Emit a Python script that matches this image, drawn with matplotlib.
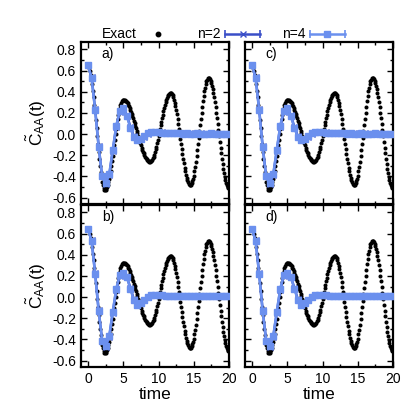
import numpy as np
import matplotlib
matplotlib.use('Agg')
import matplotlib.pyplot as plt
from matplotlib.lines import Line2D
from matplotlib.legend_handler import HandlerLine2D
from matplotlib.ticker import MultipleLocator

plt.rcParams['font.family'] = ['Liberation Sans', 'DejaVu Sans']
plt.rcParams['mathtext.fontset'] = 'custom'
plt.rcParams['mathtext.rm'] = 'Liberation Sans'
plt.rcParams['mathtext.it'] = 'Liberation Sans'

# exact correlation function, sampled every 0.1 in time
exact = [0.640, 0.635, 0.620, 0.595, 0.562, 0.519, 0.469, 0.411, 0.348, 0.279,
         0.206, 0.131, 0.055, -0.021, -0.096, -0.169, -0.238, -0.301, -0.359, -0.409,
         -0.452, -0.485, -0.510, -0.525, -0.530,
         -0.527, -0.518, -0.502, -0.481, -0.454, -0.423, -0.386, -0.345, -0.301, -0.254,
         -0.205, -0.154, -0.103, -0.051, 0.000, 0.049, 0.097, 0.140, 0.181, 0.218,
         0.250, 0.276, 0.297, 0.313, 0.322, 0.325,
         0.324, 0.321, 0.316, 0.309, 0.300, 0.290, 0.277, 0.263, 0.248, 0.231,
         0.212, 0.192, 0.172, 0.150, 0.127, 0.104, 0.081, 0.057, 0.033, 0.008,
         -0.016, -0.039, -0.062, -0.085, -0.107, -0.127, -0.147, -0.166, -0.183, -0.198,
         -0.212, -0.225, -0.235, -0.244, -0.251, -0.256, -0.259, -0.260,
         -0.258, -0.252, -0.243, -0.230, -0.213, -0.194, -0.171, -0.145, -0.117, -0.087,
         -0.055, -0.022, 0.012, 0.047, 0.083, 0.118, 0.152, 0.185, 0.217, 0.247,
         0.275, 0.301, 0.324, 0.343, 0.360, 0.373, 0.382, 0.388, 0.390,
         0.387, 0.379, 0.366, 0.347, 0.323, 0.295, 0.263, 0.226, 0.186, 0.144,
         0.099, 0.052, 0.004, -0.045, -0.094, -0.142, -0.189, -0.234, -0.276, -0.316,
         -0.353, -0.385, -0.413, -0.437, -0.456, -0.469, -0.477, -0.480,
         -0.476, -0.465, -0.447, -0.422, -0.391, -0.353, -0.310, -0.262, -0.210, -0.154,
         -0.096, -0.036, 0.025, 0.086, 0.146, 0.204, 0.260, 0.312, 0.359, 0.403,
         0.440, 0.472, 0.497, 0.515, 0.526, 0.530,
         0.527, 0.518, 0.503, 0.482, 0.456, 0.424, 0.388, 0.347, 0.302, 0.254,
         0.202, 0.149, 0.094, 0.038, -0.018, -0.074, -0.129, -0.182, -0.234, -0.282,
         -0.327, -0.368, -0.404, -0.436, -0.462, -0.483, -0.498, -0.507, -0.510]
t_exact = np.arange(len(exact)) * 0.1

# approximations, sampled every 0.5
n2_top = [0.65, 0.54, 0.24, -0.11, -0.40, -0.47, -0.39, -0.16, 0.07, 0.21,
          0.24, 0.18, 0.07, -0.02, -0.06, -0.05, -0.03, 0.00, 0.02, 0.02,
          0.02, 0.02, 0.01, 0.01, 0.01, 0.01, 0.01, 0.01, 0.00, 0.01,
          0.00, 0.00, 0.01, 0.00, 0.00, 0.00, 0.01, 0.00, 0.00, 0.00, 0.00]
n4_top = [0.65, 0.53, 0.23, -0.12, -0.40, -0.46, -0.38, -0.15, 0.08, 0.22,
          0.25, 0.17, 0.06, -0.03, -0.06, -0.05, -0.02, 0.01, 0.02, 0.02,
          0.02, 0.01, 0.01, 0.01, 0.01, 0.01, 0.01, 0.00, 0.01, 0.00,
          0.00, 0.01, 0.00, 0.00, 0.00, 0.01, 0.00, 0.00, 0.00, 0.00, 0.00]
n2_bot = [0.64, 0.54, 0.23, -0.12, -0.41, -0.47, -0.38, -0.15, 0.07, 0.20,
          0.22, 0.19, 0.09, -0.02, -0.07, -0.06, -0.03, 0.00, 0.02, 0.02,
          0.02, 0.02, 0.01, 0.01, 0.01, 0.01, 0.01, 0.01, 0.01, 0.01,
          0.01, 0.01, 0.01, 0.01, 0.01, 0.01, 0.01, 0.01, 0.01, 0.01, 0.01]
n4_bot = [0.64, 0.53, 0.22, -0.13, -0.41, -0.46, -0.37, -0.14, 0.08, 0.21,
          0.23, 0.19, 0.08, -0.03, -0.07, -0.06, -0.03, 0.00, 0.02, 0.02,
          0.02, 0.02, 0.01, 0.01, 0.01, 0.01, 0.01, 0.01, 0.01, 0.01,
          0.01, 0.01, 0.01, 0.01, 0.01, 0.01, 0.01, 0.01, 0.01, 0.01, 0.01]
t_approx = np.arange(len(n4_top)) * 0.5
err = 0.01

labels = ['a)', 'b)', 'c)', 'd)']

c_n2 = '#3a4fc8'
c_n4 = '#6b90ee'


class CapHandler(HandlerLine2D):
    # gnuplot-like key sample: |--x--|
    def create_artists(self, legend, orig_handle, xdescent, ydescent,
                       width, height, fontsize, trans):
        arts = super().create_artists(legend, orig_handle, xdescent, ydescent,
                                      width, height, fontsize, trans)
        y = (height - ydescent) / 2.
        caps = Line2D([-xdescent, -xdescent + width], [y, y], ls='none',
                      marker='|', ms=6, mew=1.2, color=orig_handle.get_color(),
                      transform=trans)
        return list(arts) + [caps]


fig = plt.figure(figsize=(4.02, 4.2), dpi=100)
W, H = 402, 420
lefts = [81, 245]
tops = [42, 205]
pw, ph = 148, 162

for col in range(2):
    for row in range(2):
        x0 = lefts[col]
        y0 = tops[row]
        ax = fig.add_axes([x0 / W, 1 - (y0 + ph) / H, pw / W, ph / H])
        lab = labels[col * 2 + row]

        n2 = n2_top if row == 0 else n2_bot
        n4 = n4_top if row == 0 else n4_bot

        ax.plot(t_exact, exact, 'o', color='black', ms=2.9, mew=0, zorder=2)
        ax.errorbar(t_approx, n2, yerr=err, color=c_n2, marker='x', ms=4,
                    lw=1.8, capsize=1.5, zorder=3)
        ax.errorbar(t_approx, n4, yerr=err, color=c_n4, marker='s', ms=4.6,
                    lw=1.8, capsize=1.5, zorder=4)

        ax.set_xlim(-1, 20)
        ax.set_ylim(-0.66, 0.87)
        ax.xaxis.set_major_locator(MultipleLocator(5))
        ax.xaxis.set_minor_locator(MultipleLocator(2.5))
        ax.yaxis.set_major_locator(MultipleLocator(0.2))
        ax.yaxis.set_minor_locator(MultipleLocator(0.1))
        ax.tick_params(which='both', direction='in', top=True, right=True,
                       labelsize=10, width=1)
        ax.tick_params(which='major', length=4)
        ax.tick_params(which='minor', length=2)
        for s in ax.spines.values():
            s.set_linewidth(1.6)

        ax.yaxis.set_major_formatter(plt.FuncFormatter(lambda v, p: '%.1f' % v))
        if row == 0:
            ax.tick_params(labelbottom=False)
        else:
            ax.set_xlabel('time', fontsize=12.5, labelpad=1)
        if col == 1:
            ax.tick_params(labelleft=False)
        else:
            ax.set_ylabel(r'$\tilde{\mathrm{C}}_{\mathrm{AA}}\mathrm{(t)}$',
                          fontsize=12.5, labelpad=3)

        ax.text(0.14, 0.97, lab, transform=ax.transAxes, va='top', ha='left',
                fontsize=10)

h_exact = Line2D([], [], ls='none', marker='o', ms=3.2, color='black')
h_n2 = Line2D([], [], color=c_n2, marker='x', ms=4, lw=1.8)
h_n4 = Line2D([], [], color=c_n4, marker='s', ms=4.6, lw=1.8)
fig.legend([h_exact, h_n2, h_n4], ['Exact', 'n=2', 'n=4'],
           loc='center', bbox_to_anchor=(0.555, 0.918), ncol=3, frameon=False,
           markerfirst=False, fontsize=10, handlelength=2.5, columnspacing=1.6,
           handletextpad=0.3, numpoints=1,
           handler_map={h_n2: CapHandler(), h_n4: CapHandler()})

plt.savefig('out.png', dpi=100)
